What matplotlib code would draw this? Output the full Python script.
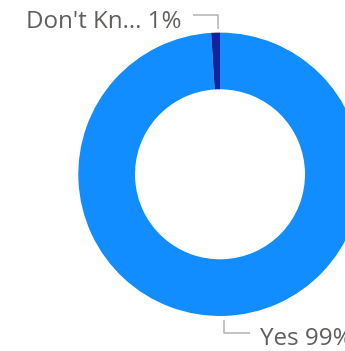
import matplotlib.pyplot as plt

# donut data
categories = ["Yes", "Don't Know"]
values = [99, 1]
labels = ["Yes 99%", "Don't Kn... 1%"]
colors = ["#118DFF", "#12239E"]

W, H = 345, 351
fig = plt.figure(figsize=(W / 100, H / 100), dpi=100)
ax = fig.add_axes([0, 0, 1, 1])
ax.set_xlim(0, W)
ax.set_ylim(0, H)
ax.set_aspect("equal")
ax.axis("off")

# ring centred at (220, 177) in pixel units, starts at 12 o'clock going clockwise
cx, cy, r = 220, H - 174.3, 141.7
ax.pie(values, colors=colors, startangle=90, counterclock=False,
       center=(cx, cy), radius=r,
       wedgeprops=dict(width=r - 85, linewidth=0))
ax.set_xlim(0, W)
ax.set_ylim(0, H)

line_kw = dict(color="#B3B3B3", lw=1.1, solid_capstyle="butt")
txt_kw = dict(color="#605E5C", fontsize=17.4, family="Open Sans", va="baseline")

# Don't Know leader + label
ax.plot([193, 218.3, 218.3], [H - 15, H - 15, H - 29], **line_kw)
ax.text(25.5, H - 28.3, labels[1], ha="left", **txt_kw)

# Yes leader + label
ax.plot([224, 224, 250], [H - 320, H - 333, H - 333], **line_kw)
ax.text(259.5, H - 345, labels[0], ha="left", **txt_kw)

fig.savefig("out.png", dpi=100)
